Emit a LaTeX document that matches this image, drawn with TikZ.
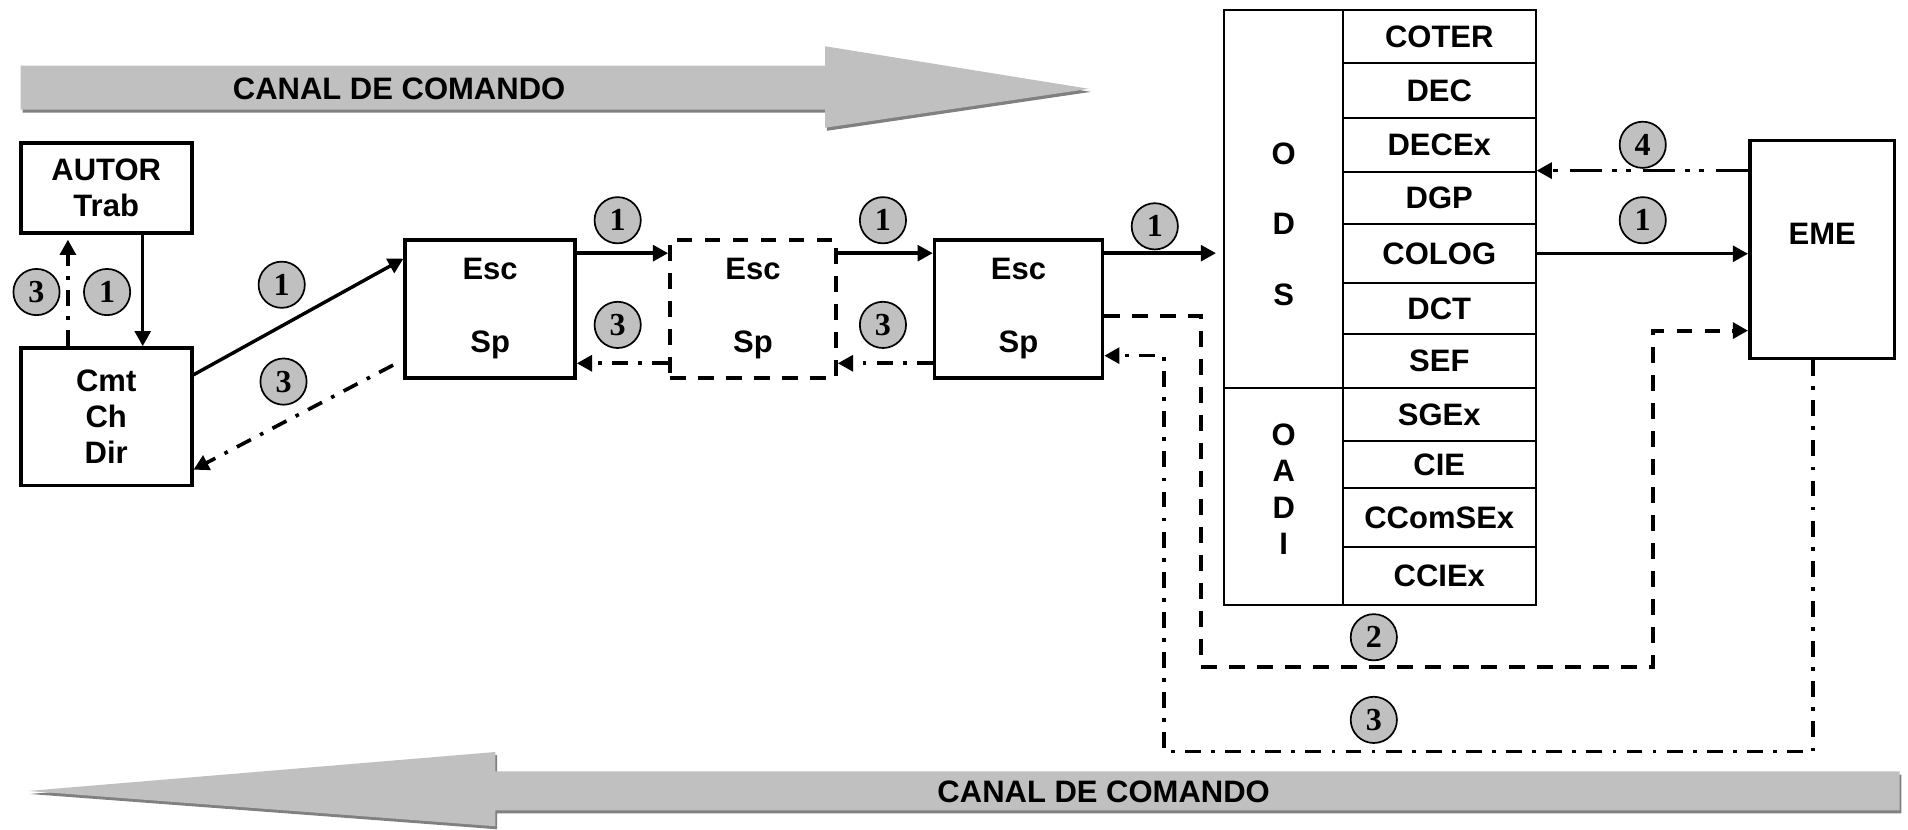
\documentclass[tikz,border=0pt]{standalone}
\usepackage{fontspec}
\setmainfont{Liberation Sans}
\newfontfamily\numfont{Liberation Serif}
\usetikzlibrary{arrows.meta,calc}
\definecolor{bandgray}{RGB}{192,192,192}
\definecolor{shadegray}{RGB}{128,128,128}
\definecolor{numgray}{RGB}{192,192,192}

\begin{document}
\begin{tikzpicture}[x=0.02cm,y=-0.02cm,
		box/.style={draw,line width=1.7pt,inner sep=0pt,align=center,font=\bfseries\fontsize{14.5}{17}\selectfont},
		dashbox/.style={box,dash pattern=on 0.26cm off 0.2cm},
		cell/.style={draw,line width=0.9pt,inner sep=0pt,font=\bfseries\fontsize{14.5}{17}\selectfont},
		lbl/.style={inner sep=0pt,align=center,font=\bfseries\fontsize{14.5}{17}\selectfont},
		num/.style={circle,draw,line width=0.8pt,fill=numgray,minimum size=0.76cm,inner sep=0pt,font=\numfont\bfseries\fontsize{15}{17}\selectfont},
		tip/.style={-{Triangle[length=0.25cm,width=0.26cm]}},
		go/.style={tip,line width=1.6pt},
		back/.style={tip,line width=1.7pt,dash pattern=on 0.26cm off 0.17cm on 0.06cm off 0.17cm},
		ask/.style={tip,line width=1.7pt,dash pattern=on 0.52cm off 0.2cm on 0.08cm off 0.16cm on 0.08cm off 0.16cm},
		info/.style={tip,line width=1.8pt,dash pattern=on 0.26cm off 0.2cm}]

	\useasboundingbox (0,0) rectangle (1568,682);

	% canal de comando (ida)
	\fill[shadegray,shift={(1.5,2.5)}] (17,54) -- (678,54) -- (678,38) -- (895,73) -- (678,105) -- (678,90) -- (17,90) -- cycle;
	\fill[bandgray] (17,54) -- (678,54) -- (678,38) -- (895,73) -- (678,105) -- (678,90) -- (17,90) -- cycle;
	\node[lbl] (canalida) at (328,73) {CANAL DE COMANDO};

	% canal de comando (volta)
	\fill[shadegray,shift={(1.5,2.5)}] (1561,634) -- (407,634) -- (407,618) -- (23,650) -- (407,679) -- (407,666) -- (1561,666) -- cycle;
	\fill[bandgray] (1561,634) -- (407,634) -- (407,618) -- (23,650) -- (407,679) -- (407,666) -- (1561,666) -- cycle;
	\node[lbl] (canalvolta) at (907,651) {CANAL DE COMANDO};

	% escaloes
	\node[box,minimum width=2.81cm,minimum height=1.48cm] (autor) at (87.3,154.5) {AUTOR\\Trab};
	\node[box,minimum width=2.81cm,minimum height=2.26cm] (cmt) at (87.3,342.5) {Cmt\\Ch\\Dir};
	\node[box,minimum width=2.79cm,minimum height=2.27cm] (esc1) at (402.8,253.8) {Esc\\[17pt]Sp};
	\node[dashbox,minimum width=2.73cm,minimum height=2.27cm] (esc2) at (618.8,253.8) {Esc\\[17pt]Sp};
	\node[box,minimum width=2.76cm,minimum height=2.27cm] (esc3) at (837,253.8) {Esc\\[17pt]Sp};
	\node[box,minimum width=2.38cm,minimum height=3.58cm] (eme) at (1497.5,205) {};
	\node[lbl] (emetxt) at (1497.5,192) {EME};

	% ODS / OADI
	\node[cell,minimum width=1.95cm,minimum height=6.21cm] (ods) at (1054.8,163.3) {};
	\node[cell,minimum width=1.95cm,minimum height=3.57cm] (oadi) at (1054.8,407.8) {};
	\node[lbl] (odstxt) at (1055,184) {O\\[16pt]D\\[16pt]S};
	\node[lbl] (oaditxt) at (1055,402) {O\\A\\D\\I};
	\foreach \nm/\ya/\yb in {COTER/8/52.1,DEC/52.1/96.8,DECEx/96.8/141,DGP/141/184.4,COLOG/184.4/232.7,DCT/232.7/274.2,SEF/274.2/318.6,SGEx/318.6/362.7,CIE/362.7/401.3,CComSEx/401.3/449.3,CCIEx/449.3/497}
		\node[cell,minimum width=3.17cm,minimum height={(\yb-\ya)*0.02cm}] (\nm) at (1182.8,{(\ya+\yb)/2}) {\nm};

	% ordens (1)
	\draw[go] ([xshift=0.6cm]autor.south) -- ([xshift=0.6cm]cmt.north);
	\draw[go] ([yshift=-0.47cm]cmt.north east) -- ([yshift=-0.34cm]esc1.north west);
	\draw[go] ([yshift=-0.25cm]esc1.north east) -- ([yshift=-0.25cm]esc2.north west);
	\draw[go] ([yshift=-0.25cm]esc2.north east) -- ([yshift=-0.25cm]esc3.north west);
	\coordinate (e3out) at ([yshift=-0.25cm]esc3.north east);
	\draw[go,shorten >=0.12cm] (e3out) -- (e3out -| ods.west);
	\draw[go] (COLOG.east) -- (COLOG.east -| eme.west);

	% retorno (3)
	\draw[back,shorten >=0.08cm] ([xshift=-0.63cm]cmt.north) -- ([xshift=-0.63cm]autor.south);
	\draw[back] ([xshift=-0.17cm,yshift=0.24cm]esc1.south west) -- ([yshift=0.29cm]cmt.south east);
	\draw[back] ([yshift=0.27cm]esc2.south west) -- ([yshift=0.27cm]esc1.south east);
	\draw[back] ([yshift=0.27cm]esc3.south west) -- ([yshift=0.27cm]esc2.south east);
	\draw[back] ([xshift=-0.15cm]eme.south) |- (956.5,617.6) |- ([yshift=-0.77cm]esc3.east);

	% informacao (2) e consulta (4)
	\coordinate (d2) at (1358.5,271.7);
	\draw[info] ([yshift=-0.12cm]esc3.east) -| (987,548) -| (d2) -- (d2 -| eme.west);
	\draw[ask] (DGP.north east -| eme.west) -- (DGP.north east);

	% numeros
	\node[num] (n3a) at (30,240) {3};
	\node[num] (n1a) at (88,240) {1};
	\node[num] (n1b) at (231.5,234) {1};
	\node[num] (n3b) at (233,313.6) {3};
	\node[num] (n1c) at (507.6,181) {1};
	\node[num] (n3c) at (507.6,267) {3};
	\node[num] (n1d) at (725.6,181) {1};
	\node[num] (n3d) at (725.6,267) {3};
	\node[num] (n1e) at (949,186) {1};
	\node[num] (n4) at (1350,119) {4};
	\node[num] (n1f) at (1350,181) {1};
	\node[num] (n2) at (1129,523.7) {2};
	\node[num] (n3e) at (1129,591.6) {3};
\end{tikzpicture}
\end{document}
